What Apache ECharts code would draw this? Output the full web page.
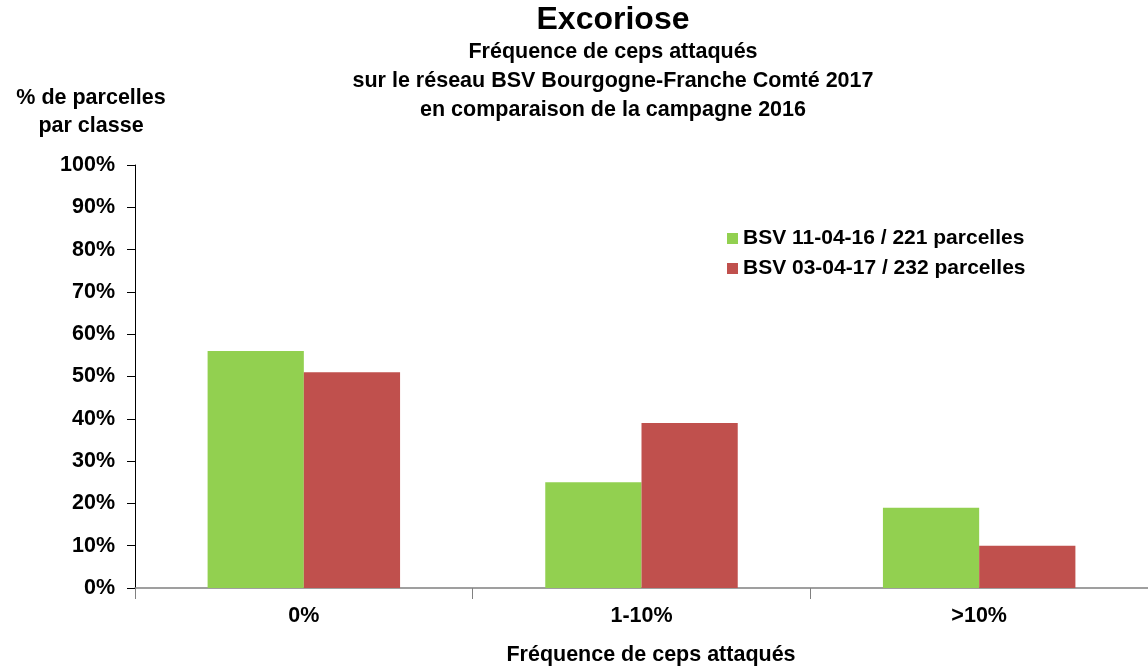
<!DOCTYPE html>
<html><head><meta charset="utf-8">
<script src="https://cdn.jsdelivr.net/npm/echarts@6/dist/echarts.min.js"></script>
<style>html,body{margin:0;padding:0;background:#fff}#c{width:1148px;height:669px}</style>
</head><body><div id="c"></div>
<script>
const categories = ['0%', '1-10%', '>10%'];
const series2016 = [56, 25, 19];
const series2017 = [51, 39, 10];
const seriesNames = ['BSV 11-04-16 / 221 parcelles', 'BSV 03-04-17 / 232 parcelles'];
const titleText = 'Excoriose';
const subtitleLines = ['Fréquence de ceps attaqués', 'sur le réseau BSV Bourgogne-Franche Comté 2017', 'en comparaison de la campagne 2016'];
const yName = ['% de parcelles', 'par classe'];
const xName = 'Fréquence de ceps attaqués';

const F = '"Liberation Sans", Arial, sans-serif';
const chart = echarts.init(document.getElementById('c'), null, {renderer: 'canvas'});
chart.setOption({
  animation: false,
  backgroundColor: '#fff',
  textStyle: {fontFamily: F},
  graphic: [
    {type: 'text', x: 613, y: 4, style: {text: titleText, font: 'bold 32px ' + F, fill: '#000', align: 'center'}},
    {type: 'text', x: 613, y: 38, style: {text: subtitleLines.join('\n'), font: 'bold 21.5px ' + F, fill: '#000', align: 'center', lineHeight: 29}},
    {type: 'text', x: 91, y: 84, style: {text: yName.join('\n'), font: 'bold 21.5px ' + F, fill: '#000', align: 'center', lineHeight: 28}},
    {type: 'text', x: 651, y: 644, style: {text: xName, font: 'bold 21.5px ' + F, fill: '#000', align: 'center'}}
  ],
  legend: {
    orient: 'vertical', left: 722, top: 223, itemWidth: 11, itemHeight: 11, itemGap: 9,
    icon: 'rect',
    textStyle: {fontFamily: F, fontWeight: 'bold', fontSize: 21, color: '#000'},
    data: seriesNames
  },
  grid: {left: 135, top: 165, width: 1017, height: 423, containLabel: false},
  xAxis: {
    type: 'category', data: categories,
    axisLine: {lineStyle: {color: '#808080', width: 1.5}},
    axisTick: {show: true, length: 11, lineStyle: {color: '#808080'}},
    axisLabel: {fontFamily: F, fontWeight: 'bold', fontSize: 21.5, color: '#000', margin: 17}
  },
  yAxis: {
    type: 'value', min: 0, max: 100, interval: 10,
    axisLine: {show: true, lineStyle: {color: '#000', width: 1}},
    axisTick: {show: true, length: 8, lineStyle: {color: '#000'}},
    splitLine: {show: false},
    axisLabel: {formatter: '{value}%', fontFamily: F, fontWeight: 'bold', fontSize: 21.5, color: '#000', margin: 20}
  },
  series: [
    {name: seriesNames[0], type: 'bar', data: series2016, barGap: '0%', barCategoryGap: '43%', itemStyle: {color: '#92d050'}},
    {name: seriesNames[1], type: 'bar', data: series2017, barGap: '0%', barCategoryGap: '43%', itemStyle: {color: '#c0504d'}}
  ]
});
</script></body></html>
